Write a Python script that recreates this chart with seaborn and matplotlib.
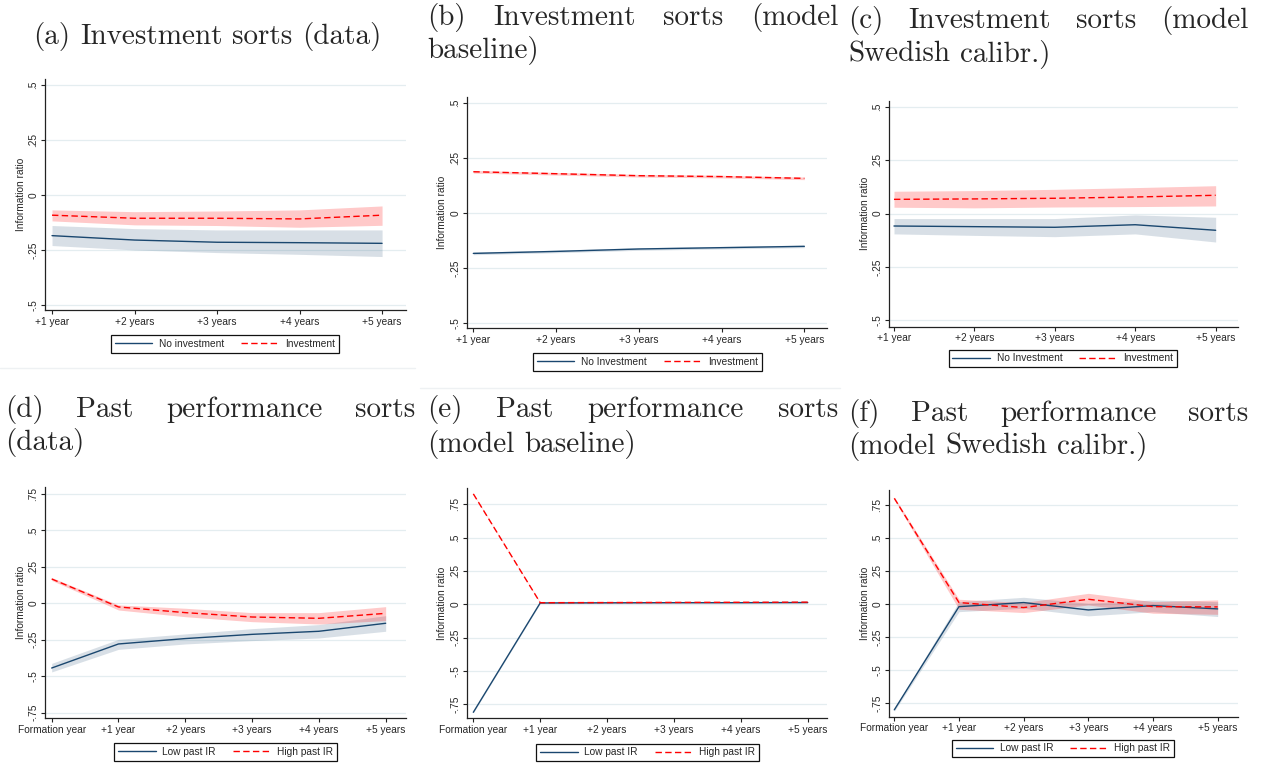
import matplotlib
matplotlib.use("Agg")
import matplotlib.pyplot as plt
from matplotlib.lines import Line2D
import seaborn as sns
import numpy as np

# ---------------- data ----------------
x_inv_labels = ["+1 year", "+2 years", "+3 years", "+4 years", "+5 years"]
x_past_labels = ["Formation year", "+1 year", "+2 years", "+3 years", "+4 years", "+5 years"]

yt_inv = [-0.5, -0.25, 0, 0.25, 0.5]
yt_inv_labels = ["-.5", "-.25", "0", ".25", ".5"]
yt_past = [-0.75, -0.5, -0.25, 0, 0.25, 0.5, 0.75]
yt_past_labels = ["-.75", "-.5", "-.25", "0", ".25", ".5", ".75"]

# (a) Investment sorts (data)
a_noinv = [-0.185, -0.205, -0.215, -0.217, -0.220]
a_noinv_lo = [-0.230, -0.250, -0.262, -0.270, -0.280]
a_noinv_hi = [-0.139, -0.153, -0.159, -0.159, -0.159]
a_inv = [-0.092, -0.106, -0.106, -0.109, -0.092]
a_inv_lo = [-0.118, -0.136, -0.139, -0.147, -0.138]
a_inv_hi = [-0.068, -0.076, -0.073, -0.068, -0.050]

# (b) Investment sorts (model baseline)
b_noinv = [-0.182, -0.173, -0.162, -0.156, -0.150]
b_noinv_lo = [-0.188, -0.179, -0.168, -0.162, -0.156]
b_noinv_hi = [-0.176, -0.167, -0.156, -0.150, -0.144]
b_inv = [0.189, 0.180, 0.171, 0.167, 0.159]
b_inv_lo = [0.183, 0.174, 0.165, 0.161, 0.153]
b_inv_hi = [0.195, 0.186, 0.177, 0.173, 0.165]

# (c) Investment sorts (model Swedish calibr.)
c_noinv = [-0.058, -0.061, -0.064, -0.052, -0.078]
c_noinv_lo = [-0.095, -0.102, -0.108, -0.095, -0.133]
c_noinv_hi = [-0.023, -0.023, -0.023, -0.006, -0.017]
c_inv = [0.067, 0.069, 0.072, 0.078, 0.086]
c_inv_lo = [0.030, 0.027, 0.031, 0.033, 0.036]
c_inv_hi = [0.105, 0.108, 0.114, 0.122, 0.131]

# (d) Past performance sorts (data)
d_low = [-0.444, -0.279, -0.242, -0.213, -0.192, -0.137]
d_low_lo = [-0.471, -0.316, -0.279, -0.256, -0.238, -0.192]
d_low_hi = [-0.412, -0.247, -0.210, -0.174, -0.146, -0.085]
d_high = [0.167, -0.025, -0.064, -0.094, -0.103, -0.069]
d_high_lo = [0.157, -0.046, -0.092, -0.126, -0.142, -0.119]
d_high_hi = [0.177, -0.011, -0.034, -0.064, -0.064, -0.023]

# (e) Past performance sorts (model baseline)
e_low = [-0.810, 0.010, 0.011, 0.012, 0.012, 0.013]
e_low_lo = [-0.814, 0.006, 0.007, 0.008, 0.008, 0.009]
e_low_hi = [-0.806, 0.014, 0.015, 0.016, 0.016, 0.017]
e_high = [0.828, 0.012, 0.013, 0.014, 0.015, 0.016]
e_high_lo = [0.824, 0.008, 0.009, 0.010, 0.011, 0.012]
e_high_hi = [0.832, 0.016, 0.017, 0.018, 0.019, 0.020]

# (f) Past performance sorts (model Swedish calibr.)
f_low = [-0.800, -0.018, 0.013, -0.043, -0.010, -0.035]
f_low_lo = [-0.810, -0.056, -0.030, -0.088, -0.056, -0.093]
f_low_hi = [-0.790, 0.020, 0.053, 0.008, 0.033, 0.020]
f_high = [0.803, 0.013, -0.025, 0.038, -0.018, -0.020]
f_high_lo = [0.793, -0.038, -0.063, -0.005, -0.068, -0.076]
f_high_hi = [0.813, 0.038, 0.013, 0.083, 0.020, 0.033]

# ---------------- style ----------------
sns.set_style("ticks")
plt.rcParams["font.family"] = ["Liberation Sans", "DejaVu Sans"]

NAVY = "#1a476f"
RED = "#ff0000"
GRID = "#e4edf0"
DASH = (0, (4.6, 2.4))
FS = 7.3
TFS = 21

W, H = 1261, 770
fig = plt.figure(figsize=(W / 100, H / 100), dpi=100)
fig.patch.set_facecolor("white")


def make_ax(left, top, right, bottom):
    return fig.add_axes([left / W, 1 - bottom / H, (right - left) / W, (bottom - top) / H])


def panel(box, xlim, ylim, xlabels, yticks, ylabels, series, legend_labels, legend_box):
    ax = make_ax(*box)
    xs = np.arange(len(xlabels)) if len(xlabels) == 6 else np.arange(1, len(xlabels) + 1)
    for yt in yticks:
        ax.axhline(yt, color=GRID, lw=0.9, zorder=0)
    (l, l_lo, l_hi), (h, h_lo, h_hi) = series
    ax.fill_between(xs, l_lo, l_hi, color=NAVY, alpha=0.17, lw=0, zorder=1)
    ax.fill_between(xs, h_lo, h_hi, color=RED, alpha=0.21, lw=0, zorder=1)
    sns.lineplot(x=xs, y=l, ax=ax, color=NAVY, lw=1.0, zorder=3)
    sns.lineplot(x=xs, y=h, ax=ax, color=RED, lw=1.0, linestyle=DASH, zorder=4)
    ax.set_xlim(*xlim)
    ax.set_ylim(*ylim)
    ax.set_xticks(xs)
    ax.set_xticklabels(xlabels, fontsize=FS)
    ax.set_yticks(yticks)
    ax.set_yticklabels(ylabels, fontsize=FS, rotation=90, va="center", ha="right")
    ax.set_xlabel("")
    ax.set_ylabel("Information ratio", fontsize=FS, labelpad=2)
    for s in ["top", "right"]:
        ax.spines[s].set_visible(False)
    for s in ["left", "bottom"]:
        ax.spines[s].set_color("#222222")
        ax.spines[s].set_linewidth(0.9)
    ax.tick_params(axis="both", length=3.2, width=0.8, color="#222222", pad=1.5)
    ax.set_facecolor("white")
    handles = [Line2D([], [], color=NAVY, lw=1.0),
               Line2D([], [], color=RED, lw=1.0, linestyle=DASH)]
    cx, top = legend_box
    leg = ax.legend(handles, legend_labels, loc="upper center", ncol=2,
                    bbox_to_anchor=(cx / W, 1 - top / H), bbox_transform=fig.transFigure,
                    fontsize=FS, frameon=True, fancybox=False, framealpha=1,
                    edgecolor="#111111", handlelength=3.7, handletextpad=0.65,
                    columnspacing=1.7, borderpad=0.38, borderaxespad=0)
    leg.get_frame().set_linewidth(0.9)
    return ax


inv_names = ["No investment", "Investment"]
inv_names2 = ["No Investment", "Investment"]
past_names = ["Low past IR", "High past IR"]

panel((45, 79, 406, 310), (0.915, 5.29), (-0.523, 0.527), x_inv_labels, yt_inv, yt_inv_labels,
      [(a_noinv, a_noinv_lo, a_noinv_hi), (a_inv, a_inv_lo, a_inv_hi)], inv_names, (225, 335))
panel((466.7, 96.7, 827, 328), (0.92, 5.274), (-0.521, 0.53), x_inv_labels, yt_inv, yt_inv_labels,
      [(b_noinv, b_noinv_lo, b_noinv_hi), (b_inv, b_inv_lo, b_inv_hi)], inv_names2, (647.5, 353))
panel((889, 101, 1237.7, 326.7), (0.938, 5.274), (-0.53, 0.528), x_inv_labels, yt_inv, yt_inv_labels,
      [(c_noinv, c_noinv_lo, c_noinv_hi), (c_inv, c_inv_lo, c_inv_hi)], inv_names2, (1063, 349.5))
panel((45, 486.7, 405.7, 718.3), (-0.1, 5.3), (-0.789, 0.80), x_past_labels, yt_past, yt_past_labels,
      [(d_low, d_low_lo, d_low_hi), (d_high, d_high_lo, d_high_hi)], past_names, (225.5, 743))
panel((466.7, 488, 827.3, 718.3), (-0.099, 5.293), (-0.855, 0.872), x_past_labels, yt_past, yt_past_labels,
      [(e_low, e_low_lo, e_low_hi), (e_high, e_high_lo, e_high_hi)], past_names, (647.5, 743.5))
panel((889, 490, 1237.7, 716.7), (-0.082, 5.31), (-0.852, 0.866), x_past_labels, yt_past, yt_past_labels,
      [(f_low, f_low_lo, f_low_hi), (f_high, f_high_lo, f_high_hi)], past_names, (1063, 739.5))

# faint graph-region borders
fig.add_artist(Line2D([0 / W, 415 / W], [1 - 368 / H] * 2, color="#eef1f3", lw=1.0))
fig.add_artist(Line2D([420 / W, 840 / W], [1 - 388 / H] * 2, color="#eef1f3", lw=1.0))

# ---------------- titles (justified, LaTeX-like) ----------------
renderer = fig.canvas.get_renderer()


def place_line(words, x0, x1, y, mode):
    texts = [fig.text(0, 1 - y / H, w, fontsize=TFS, family="cmr10", va="baseline", ha="left")
             for w in words]
    widths = [t.get_window_extent(renderer).width for t in texts]
    sp = TFS * 100 / 72 * 0.333
    if mode == "justify" and len(words) > 1:
        gap = (x1 - x0 - sum(widths)) / (len(words) - 1)
        x = x0
    elif mode == "center":
        gap = sp
        total = sum(widths) + gap * (len(words) - 1)
        x = (x0 + x1) / 2 - total / 2
    else:
        gap = sp
        x = x0
    for t, w in zip(texts, widths):
        t.set_x(x / W)
        x += w + gap


place_line(["(a)", "Investment", "sorts", "(data)"], 0, 415, 44, "center")
place_line(["(b)", "Investment", "sorts", "(model"], 427, 838, 25, "justify")
place_line(["baseline)"], 427, 838, 58, "left")
place_line(["(c)", "Investment", "sorts", "(model"], 848, 1248, 28, "justify")
place_line(["Swedish", "calibr.)"], 848, 1248, 62, "left")
place_line(["(d)", "Past", "performance", "sorts"], 5, 415, 417, "justify")
place_line(["(data)"], 5, 415, 450, "left")
place_line(["(e)", "Past", "performance", "sorts"], 427, 838, 417, "justify")
place_line(["(model", "baseline)"], 427, 838, 452, "left")
place_line(["(f)", "Past", "performance", "sorts"], 848, 1248, 421, "justify")
place_line(["(model", "Swedish", "calibr.)"], 848, 1248, 454, "left")

fig.savefig("out.png", dpi=100, facecolor="white")
